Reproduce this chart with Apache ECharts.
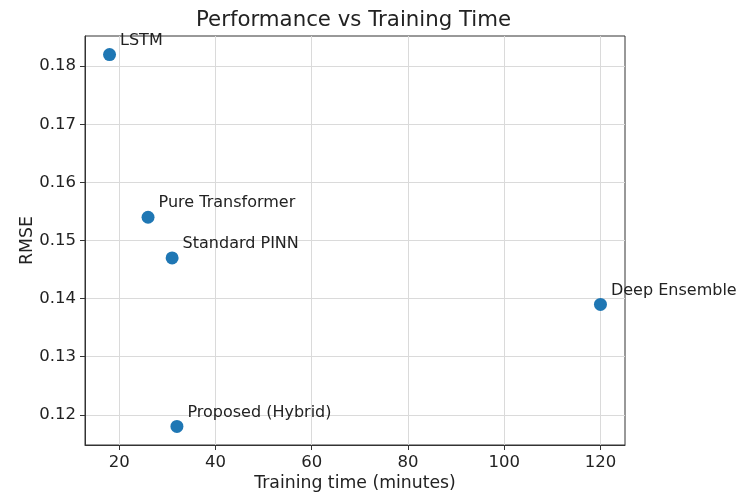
<!DOCTYPE html>
<html>
<head>
<meta charset="utf-8">
<script src="https://cdn.jsdelivr.net/npm/echarts@6/dist/echarts.min.js"></script>
<style>
html,body{margin:0;padding:0;background:#fff;}
#chart{width:740px;height:502px;}
</style>
</head>
<body>
<div id="chart"></div>
<script>
const models = ['LSTM', 'Pure Transformer', 'Standard PINN', 'Proposed (Hybrid)', 'Deep Ensemble'];
const trainingTime = [18, 26, 31, 32, 120];
const rmse = [0.182, 0.154, 0.147, 0.118, 0.139];
const xTicks = [20, 40, 60, 80, 100, 120];
const yTicks = [0.12, 0.13, 0.14, 0.15, 0.16, 0.17, 0.18];

const FONT = 'DejaVu Sans';
const TXT = '#222';

const points = models.map((m, i) => ({ name: m, value: [trainingTime[i], rmse[i]] }));

const chart = echarts.init(document.getElementById('chart'));
chart.setOption({
  animation: false,
  backgroundColor: '#fff',
  title: {
    text: 'Performance vs Training Time',
    left: 196, top: 10, padding: 0,
    textStyle: { fontFamily: FONT, fontSize: 21.3, fontWeight: 'normal', color: TXT }
  },
  grid: {
    left: 85, right: 115, top: 36, bottom: 57,
    show: true, borderColor: '#333', borderWidth: 1, backgroundColor: 'transparent'
  },
  xAxis: {
    type: 'value', min: 12.9, max: 125.1,
    name: 'Training time (minutes)', nameLocation: 'middle', nameGap: 30, nameMoveOverlap: false,
    nameTextStyle: { fontFamily: FONT, fontSize: 17.3, color: TXT },
    axisLine: { show: true, lineStyle: { color: '#333' } },
    axisTick: { show: true, length: 5, customValues: xTicks, lineStyle: { color: '#333' } },
    axisLabel: { customValues: xTicks, margin: 9, fontFamily: FONT, fontSize: 16.5, color: TXT },
    splitLine: { show: true, lineStyle: { color: '#dadada', width: 1 } }
  },
  yAxis: {
    type: 'value', min: 0.1148, max: 0.1852,
    name: 'RMSE', nameLocation: 'middle', nameGap: 49, nameRotate: 90, nameMoveOverlap: false,
    nameTextStyle: { fontFamily: FONT, fontSize: 17.3, color: TXT },
    axisLine: { show: true, lineStyle: { color: '#333' } },
    axisTick: { show: true, length: 5, customValues: yTicks, lineStyle: { color: '#333' } },
    axisLabel: { customValues: yTicks, margin: 9, fontFamily: FONT, fontSize: 16.5, color: TXT,
      formatter: v => v.toFixed(2) },
    splitLine: { show: true, lineStyle: { color: '#dadada', width: 1 } }
  },
  series: [{
    type: 'scatter',
    data: points,
    symbolSize: 13,
    itemStyle: { color: '#1f77b4', opacity: 1 },
    label: {
      show: true, position: 'right', distance: 4, offset: [0, -14],
      formatter: p => p.name,
      fontFamily: FONT, fontSize: 16, color: TXT
    }
  }]
});
</script>
</body>
</html>
